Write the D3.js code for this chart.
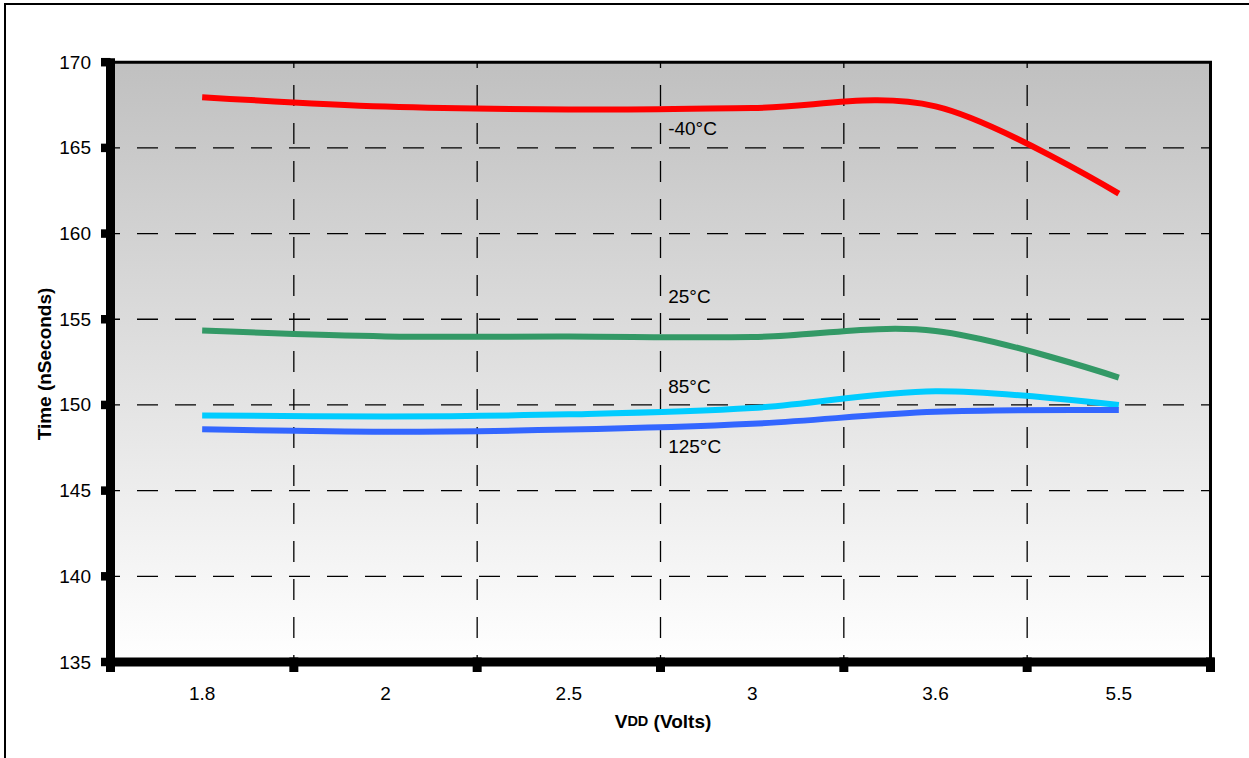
<!DOCTYPE html>
<html>
<head>
<meta charset="utf-8">
<script src="https://cdn.jsdelivr.net/npm/d3@7"></script>
<style>
  html, body { margin: 0; padding: 0; background: #fff; }
  svg { display: block; font-family: "Liberation Sans", Arial, sans-serif; }
</style>
</head>
<body>
<svg id="chart" width="1249" height="758"></svg>
<script>
const categories = ["1.8", "2", "2.5", "3", "3.6", "5.5"];
const yTicks = [135, 140, 145, 150, 155, 160, 165, 170];
const seriesNames = ["-40°C", "25°C", "85°C", "125°C"];
const valuesM40 = [167.96, 167.41, 167.24, 167.33, 167.42, 162.33];
const values25 = [154.34, 154.00, 153.99, 153.96, 154.32, 151.60];
const values85 = [149.39, 149.33, 149.45, 149.82, 150.80, 150.00];
const values125 = [148.58, 148.44, 148.56, 148.90, 149.60, 149.70];
const seriesColors = ["#ff0000", "#339966", "#00ccff", "#3366ff"];
const labelCategory = ["3", "3", "3", "3"];
const labelValues = [166.15, 156.3, 151.1, 147.6];

const svg = d3.select("#chart");
const L = 110.5, R = 1210.5, T = 62.2, B = 662;

const x = d3.scaleBand().domain(categories).range([L, R]).paddingInner(0).paddingOuter(0);
const y = d3.scaleLinear().domain([135, 170]).range([B, T]);
const cx = c => x(c) + x.bandwidth() / 2;

// outer frame
svg.append("rect").attr("x", 5).attr("y", 4).attr("width", 1300).attr("height", 900)
  .attr("fill", "none").attr("stroke", "#000").attr("stroke-width", 2);

// gradient background
const defs = svg.append("defs");
const grad = defs.append("linearGradient").attr("id", "bg").attr("x1", 0).attr("y1", 0).attr("x2", 0).attr("y2", 1);
grad.append("stop").attr("offset", "0%").attr("stop-color", "#c0c0c0");
grad.append("stop").attr("offset", "100%").attr("stop-color", "#ffffff");
svg.append("rect").attr("x", L).attr("y", T).attr("width", R - L).attr("height", B - T).attr("fill", "url(#bg)");

// horizontal gridlines
svg.append("g").selectAll("line").data(yTicks.filter(v => v > 135 && v < 170)).join("line")
  .attr("x1", L).attr("x2", R).attr("y1", d => y(d)).attr("y2", d => y(d))
  .attr("stroke", "#000").attr("stroke-width", 1.3)
  .attr("stroke-dasharray", "21,17").attr("stroke-dashoffset", 11.5);

// vertical gridlines at band boundaries
const bounds = categories.map(c => x(c)).concat([R]);
svg.append("g").selectAll("line").data(bounds.slice(1, -1)).join("line")
  .attr("x1", d => d).attr("x2", d => d).attr("y1", T).attr("y2", B)
  .attr("stroke", "#000").attr("stroke-width", 1.3)
  .attr("stroke-dasharray", "21,17").attr("stroke-dashoffset", 15.2);

// top and right plot border
svg.append("line").attr("x1", L).attr("x2", R + 1.5).attr("y1", T).attr("y2", T).attr("stroke", "#000").attr("stroke-width", 3);
svg.append("line").attr("x1", R).attr("x2", R).attr("y1", T).attr("y2", B).attr("stroke", "#000").attr("stroke-width", 3);

// series lines
const line = d3.line().x((d, i) => cx(categories[i])).y(d => y(d)).curve(d3.curveCardinal.tension(0));
const allSeries = [valuesM40, values25, values85, values125];
svg.append("g").selectAll("path").data(allSeries).join("path")
  .attr("d", d => line(d)).attr("fill", "none")
  .attr("stroke", (d, i) => seriesColors[i]).attr("stroke-width", 6).attr("stroke-linecap", "butt");

// series labels
svg.append("g").selectAll("text").data(seriesNames).join("text")
  .attr("x", (d, i) => cx(labelCategory[i]) - 84)
  .attr("y", (d, i) => y(labelValues[i]))
  .attr("dominant-baseline", "central")
  .attr("font-size", 19).attr("fill", "#000")
  .text(d => d);

// axes
svg.append("line").attr("x1", L).attr("x2", L).attr("y1", T - 4).attr("y2", B + 4.5).attr("stroke", "#000").attr("stroke-width", 9);
svg.append("line").attr("x1", L - 4.5).attr("x2", R + 4).attr("y1", B).attr("y2", B).attr("stroke", "#000").attr("stroke-width", 9);

// y ticks
svg.append("g").selectAll("line").data(yTicks).join("line")
  .attr("x1", 101).attr("x2", L).attr("y1", d => y(d)).attr("y2", d => y(d))
  .attr("stroke", "#000").attr("stroke-width", 8.5);
svg.append("g").selectAll("text").data(yTicks).join("text")
  .attr("x", 91).attr("y", d => y(d)).attr("text-anchor", "end").attr("dominant-baseline", "central")
  .attr("font-size", 19).attr("fill", "#000").text(d => d);

// x ticks
svg.append("g").selectAll("line").data(bounds).join("line")
  .attr("x1", d => d).attr("x2", d => d).attr("y1", 657.5).attr("y2", 672)
  .attr("stroke", "#000").attr("stroke-width", 9);
svg.append("g").selectAll("text").data(categories).join("text")
  .attr("x", d => cx(d)).attr("y", 693).attr("text-anchor", "middle").attr("dominant-baseline", "central")
  .attr("font-size", 19).attr("fill", "#000").text(d => d);

// axis titles
const xt = svg.append("text").attr("x", 663).attr("y", 721).attr("text-anchor", "middle")
  .attr("dominant-baseline", "central").attr("font-weight", "bold").attr("font-size", 19).attr("fill", "#000");
xt.append("tspan").text("V");
xt.append("tspan").attr("font-size", 14.5).text("DD");
xt.append("tspan").text(" (Volts)");

svg.append("text").attr("transform", "translate(44,364) rotate(-90)").attr("text-anchor", "middle")
  .attr("dominant-baseline", "central").attr("font-weight", "bold").attr("font-size", 19).attr("fill", "#000")
  .text("Time (nSeconds)");
</script>
</body>
</html>
